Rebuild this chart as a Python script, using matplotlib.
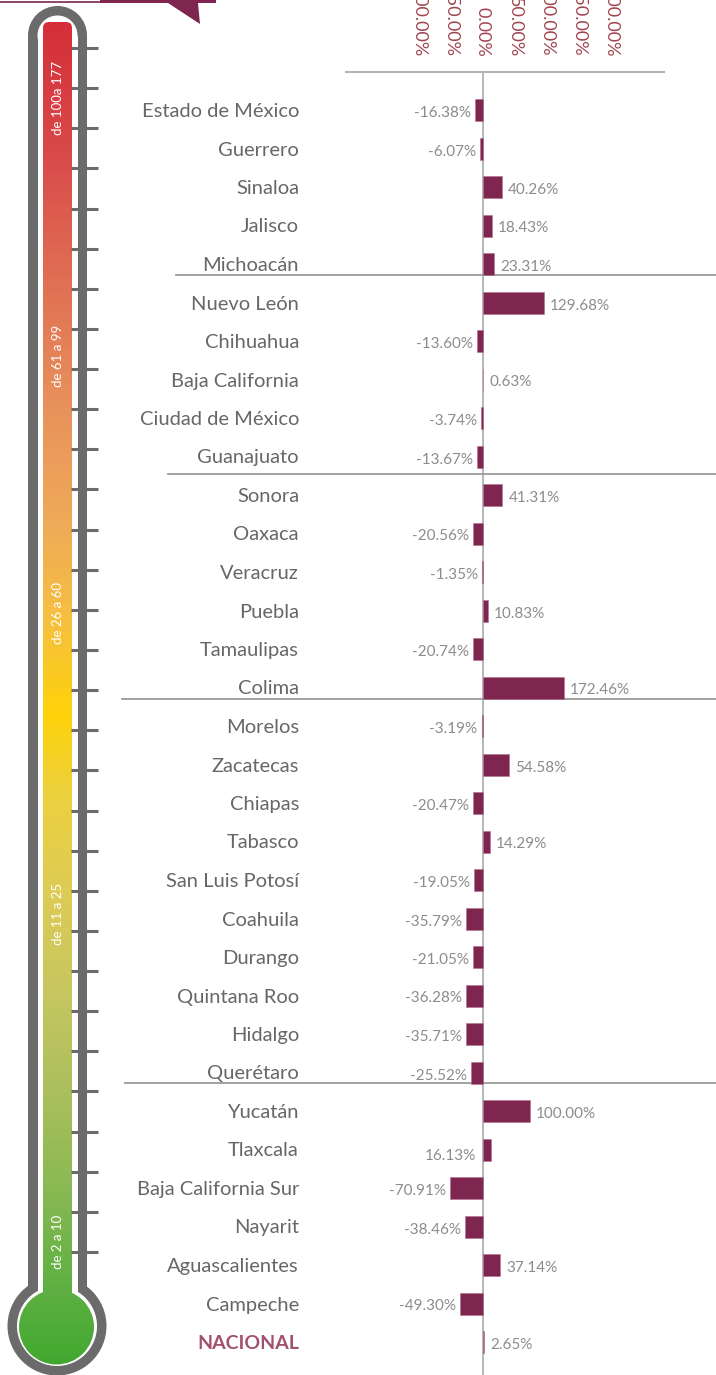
import numpy as np
import matplotlib
matplotlib.use('Agg')
from matplotlib import pyplot as plt
from matplotlib import patches, transforms
from matplotlib.colors import LinearSegmentedColormap

plt.rcParams['font.family'] = ['Lato', 'DejaVu Sans']

# datos
estados = ['Estado de México', 'Guerrero', 'Sinaloa', 'Jalisco', 'Michoacán',
           'Nuevo León', 'Chihuahua', 'Baja California', 'Ciudad de México', 'Guanajuato',
           'Sonora', 'Oaxaca', 'Veracruz', 'Puebla', 'Tamaulipas', 'Colima',
           'Morelos', 'Zacatecas', 'Chiapas', 'Tabasco', 'San Luis Potosí', 'Coahuila',
           'Durango', 'Quintana Roo', 'Hidalgo', 'Querétaro',
           'Yucatán', 'Tlaxcala', 'Baja California Sur', 'Nayarit', 'Aguascalientes',
           'Campeche', 'NACIONAL']
variacion = [-16.38, -6.07, 40.26, 18.43, 23.31,
             129.68, -13.60, 0.63, -3.74, -13.67,
             41.31, -20.56, -1.35, 10.83, -20.74, 172.46,
             -3.19, 54.58, -20.47, 14.29, -19.05, -35.79,
             -21.05, -36.28, -35.71, -25.52,
             100.00, 16.13, -70.91, -38.46, 37.14,
             -49.30, 2.65]
rangos = ['de 100a 177', 'de 61 a 99', 'de 26 a 60', 'de 11 a 25', 'de 2 a 10']
ticks_eje = [-100, -50, 0, 50, 100, 150, 200]

# medidas en pixeles
W, H = 716, 1375
X0 = 483      # linea del cero
PX = 0.47     # pixeles por punto porcentual
Y0 = 110      # centro del primer renglon
DY = 38.5     # alto de renglon
GRIS = '#6b6b6b'
VINO = '#7e2550'

fig = plt.figure(figsize=(W / 100, H / 100), dpi=100)

# ---------------- termometro ----------------
axt = fig.add_axes([0, 0, 1, 1])
axt.set_xlim(0, W)
axt.set_ylim(H, 0)
axt.axis('off')

# banda superior
axt.plot([0, 100], [1.5, 1.5], color=VINO, lw=1.2, solid_capstyle='butt')
axt.add_patch(patches.Polygon([(100, 0), (216, 0), (216, 3), (198, 3), (200, 24),
                               (168, 3), (100, 3)], closed=True, color=VINO, lw=0))

cx = 57.5
axt.add_patch(patches.Rectangle((cx - 29.5, 35.5), 59, 1270, color=GRIS, lw=0))
axt.add_patch(patches.Circle((cx, 35.5), 29.5, color=GRIS, lw=0))
axt.add_patch(patches.Circle((57, 1326), 49.5, color=GRIS, lw=0))
axt.add_patch(patches.Rectangle((cx - 20, 35.5), 40, 1270, color='white', lw=0))
axt.add_patch(patches.Circle((cx, 35.5), 20, color='white', lw=0))
axt.add_patch(patches.Circle((57, 1326), 40, color='white', lw=0))

paradas = [(22, '#d52f3a'), (150, '#d94a4a'), (260, '#df6a52'), (400, '#e8905c'),
           (520, '#efaa58'), (620, '#f6c040'), (715, '#fdd20a'), (800, '#ebd040'),
           (900, '#dccb55'), (1000, '#c5c660'), (1100, '#a9bf5c'), (1200, '#86b852'),
           (1290, '#5fb042'), (1366, '#42a830')]
cmap = LinearSegmentedColormap.from_list(
    'termo', [((p - 22) / (1366 - 22), c) for p, c in paradas])
grad = np.linspace(0, 1, 600).reshape(-1, 1)

tubo = patches.FancyBboxPatch((43, 22), 29, 1290, boxstyle='round,pad=0,rounding_size=6',
                              transform=axt.transData, facecolor='none', lw=0)
axt.add_patch(tubo)
im = axt.imshow(grad, cmap=cmap, extent=(43, 72, 1366, 22), aspect='auto',
                origin='upper', interpolation='bilinear', zorder=2)
im.set_clip_path(tubo)
bulbo = patches.Circle((56.5, 1327), 37.5, transform=axt.transData, facecolor='none', lw=0)
axt.add_patch(bulbo)
im2 = axt.imshow(grad, cmap=cmap, extent=(15, 100, 1366, 22), aspect='auto',
                 origin='upper', interpolation='bilinear', zorder=2)
im2.set_clip_path(bulbo)
axt.set_xlim(0, W)
axt.set_ylim(H, 0)

for yt in np.linspace(48, 1252, 31):
    axt.plot([71, 98], [yt, yt], color=GRIS, lw=2.2, solid_capstyle='butt', zorder=3)

for txt, yl in zip(rangos, [98, 356, 613, 914, 1242]):
    axt.text(58.5, yl, txt, rotation=90, ha='center', va='center',
             color='white', fontsize=9.5, zorder=4)

# ---------------- barras ----------------
ax = fig.add_axes([346 / W, 0, (664 - 346) / W, (H - 72) / H])
ax.patch.set_alpha(0)
ax.set_xlim((346 - X0) / PX, (664 - X0) / PX)
ax.set_ylim((H - Y0) / DY, (72 - Y0) / DY)

pos = np.arange(len(estados))
ax.barh(pos, variacion, height=22 / DY, color=VINO, edgecolor='#b07090',
        linewidth=0.4, zorder=3)
ax.axvline(0, color='#aaaaaa', lw=1.2, zorder=2)

for s in ['left', 'right', 'bottom']:
    ax.spines[s].set_visible(False)
ax.spines['top'].set_color('#b5b5b5')
ax.spines['top'].set_linewidth(1.5)
ax.set_xticks([])
ax.set_yticks([])

sec = ax.secondary_xaxis('top', functions=(lambda v: v * PX / 0.64, lambda l: l * 0.64 / PX))
sec.set_xticks(ticks_eje)
sec.set_xticklabels([f'{t:.2f}%' for t in ticks_eje], rotation=-90,
                    color='#a0454f', fontsize=13)
sec.tick_params(length=0, pad=10.8)
sec.spines['top'].set_visible(False)

trans = transforms.blended_transform_factory(fig.transFigure, ax.transData)
for i, nombre in enumerate(estados):
    if nombre == 'NACIONAL':
        ax.annotate(nombre, xy=(299 / W, i), xycoords=trans, xytext=(0, -7),
                    textcoords='offset pixels', ha='right', va='baseline',
                    fontsize=14, color='#a2506f', fontweight='bold')
    else:
        ax.annotate(nombre, xy=(299 / W, i), xycoords=trans, xytext=(0, -7),
                    textcoords='offset pixels', ha='right', va='baseline',
                    fontsize=14.5, color='#676767')

for i, (nombre, v) in enumerate(zip(estados, variacion)):
    if nombre == 'Tlaxcala':
        ax.annotate(f'{v:.2f}%', xy=(0, i), xytext=(-7, -10), textcoords='offset pixels',
                    ha='right', va='baseline', fontsize=11, color='#8c8c8c')
    elif v < 0:
        ax.annotate(f'{v:.2f}%', xy=(v, i), xytext=(-4, -7), textcoords='offset pixels',
                    ha='right', va='baseline', fontsize=11, color='#8c8c8c')
    else:
        ax.annotate(f'{v:.2f}%', xy=(v, i), xytext=(6, -7), textcoords='offset pixels',
                    ha='left', va='baseline', fontsize=11, color='#8c8c8c')

# lineas entre grupos
for yy, xi in [(4.28, 176), (9.45, 168), (15.3, 122), (25.28, 125)]:
    ax.plot([xi / W, 1], [yy, yy], transform=trans, color='#9a9a9a', lw=1.3,
            clip_on=False, zorder=2)

fig.savefig('out.png', dpi=100)
